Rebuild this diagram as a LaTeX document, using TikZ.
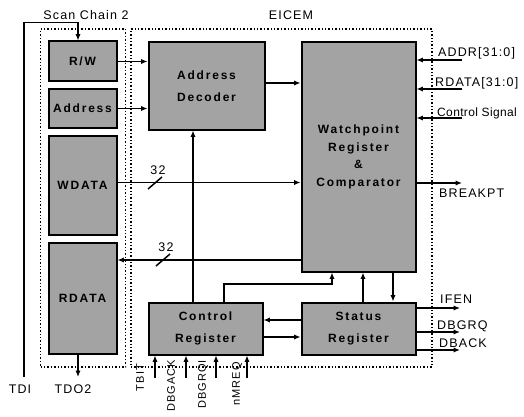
\documentclass[tikz,border=0pt]{standalone}
\usepackage{fontspec}
\setmainfont{Liberation Sans}
\newfontfamily\lblfont[LetterSpace=9]{Liberation Sans}
\newfontfamily\boxfont[LetterSpace=15]{Liberation Sans Bold}
\usetikzlibrary{positioning,arrows.meta}

\begin{document}
\begin{tikzpicture}[x=1pt,y=-1pt,
  blk/.style={draw,line width=2pt,fill=black!36,align=center,inner sep=0pt,
    font=\boxfont\fontsize{12}{17.5}\selectfont},
  grp/.style={draw,dotted,line width=1.4pt,inner sep=0pt},
  lbl/.style={inner sep=0pt,font=\lblfont\fontsize{12.5}{14}\selectfont},
  pin/.style={inner sep=0pt,font=\lblfont\fontsize{11}{13}\selectfont},
  wire/.style={line width=1.5pt},
  arr/.style={-{Latex[length=2.2mm,width=1.8mm]},line width=1.5pt}]
  \useasboundingbox (0,0) rectangle (524,417);
  % dotted blocks
  \node[grp,minimum width=85pt,minimum height=338pt] (chain) at (83,198) {};
  \node[grp,minimum width=301pt,minimum height=338pt] (eicem) at (281.5,198) {};
  \node[lbl] (chainlbl) at (86,15) {Scan Chain 2};
  \node[lbl] (eicemlbl) at (291,15) {EICEM};
  % scan chain registers
  \node[blk,minimum width=68pt,minimum height=40pt] (rw) at (82.5,61.5) {R/W};
  \node[blk,minimum width=68pt,minimum height=38pt] (addr) at (82.5,108.5) {Address};
  \node[blk,minimum width=68pt,minimum height=99pt] (wdata) at (82.5,185.5) {WDATA};
  \node[blk,minimum width=68pt,minimum height=111pt] (rdata) at (82.5,298) {RDATA};
  % EICEM blocks
  \node[blk,minimum width=116pt,minimum height=87pt] (dec) at (206.5,86) {Address\\[5pt]Decoder};
  \node[blk,minimum width=114pt,minimum height=229pt] (wpt) at (358.5,157)
    {Watchpoint\\Register\\\&\\Comparator};
  \node[blk,minimum width=114pt,minimum height=52pt] (ctrl) at (205.5,328.5) {Control\\[5pt]Register};
  \node[blk,minimum width=114pt,minimum height=52pt] (stat) at (358.5,328.5) {Status\\[5pt]Register};

  % TDI / TDO2
  \coordinate (tdi) at (24,377);
  \coordinate (tdo) at (78,377);
  \node[lbl] (tdilbl) at (20,389) {TDI};
  \node[lbl] (tdolbl) at (73,389) {TDO2};
  \draw[arr] (tdi) |- ([xshift=-4.5pt,yshift=18pt]rw.north) -- ([xshift=-4.5pt]rw.north);
  \draw[arr] (tdo |- rdata.south) -- (tdo);

  \draw[arr] (rw.east) -- (rw.east -| dec.west);
  \draw[arr] (addr.east) -- (addr.east -| dec.west);
  \draw[arr] ([yshift=3pt]dec.east) -- ([yshift=3pt]dec.east -| wpt.west);

  % inputs of the comparator
  \coordinate (addrin) at (462,60);
  \coordinate (rdin) at (462,89);
  \coordinate (ctlin) at (462,118);
  \node[lbl,anchor=west] (addrlbl) at (438,53) {ADDR[31:0]};
  \node[lbl,anchor=west] (rdlbl) at (435,83) {RDATA[31:0]};
  \node[lbl,anchor=west,font=\lblfont\fontsize{12}{14}\selectfont\addfontfeature{LetterSpace=3}]
    (ctllbl) at (437,113) {Control Signal};
  \draw[arr] (addrin) -- (addrin -| wpt.east);
  \draw[arr] (rdin) -- (rdin -| wpt.east);
  \draw[arr] (ctlin) -- (ctlin -| wpt.east);

  \coordinate (bkpt) at (462,183);
  \node[lbl,anchor=west] (bkptlbl) at (439,193) {BREAKPT};
  \draw[arr] (bkpt -| wpt.east) -- (bkpt);

  % 32-bit buses
  \draw[arr] ([yshift=3pt]wdata.east) -- ([yshift=3pt]wdata.east -| wpt.west);
  \draw[wire] (155,183) +(-7,6) -- +(7,-6);
  \node[lbl] (wbus) at (158,170) {32};
  \coordinate (rbus) at (0,260);
  \draw[arr] (rbus -| wpt.west) -- (rbus -| rdata.east);
  \draw[wire] (163,260) +(-7,6) -- +(7,-6);
  \node[lbl] (rbuslbl) at (166,247) {32};

  % control / status links
  \coordinate (cup) at (193,0);
  \draw[arr] (cup |- ctrl.north) -- (cup |- dec.south);
  \coordinate (cbend) at (224,284);
  \coordinate (wtap) at (332,284);
  \draw[arr] (cbend |- ctrl.north) -- (cbend) -- (wtap) -- (wtap |- wpt.south);
  \coordinate (stup) at (363,0);
  \coordinate (stdn) at (393,0);
  \draw[arr] (stup |- stat.north) -- (stup |- wpt.south);
  \draw[arr] (stdn |- wpt.south) -- (stdn |- stat.north);
  \coordinate (sc) at (0,320);
  \coordinate (cs) at (0,337);
  \draw[arr] (sc -| stat.west) -- (sc -| ctrl.east);
  \draw[arr] (cs -| ctrl.east) -- (cs -| stat.west);

  % status outputs
  \coordinate (ifen) at (460,308);
  \coordinate (dbgrq) at (460,332);
  \coordinate (dback) at (460,350);
  \node[lbl,anchor=west] (ifenlbl) at (440,299) {IFEN};
  \node[lbl,anchor=west] (dbgrqlbl) at (437,326) {DBGRQ};
  \node[lbl,anchor=west] (dbacklbl) at (439,343) {DBACK};
  \draw[arr] (ifen -| stat.east) -- (ifen);
  \draw[arr] (dbgrq -| stat.east) -- (dbgrq);
  \draw[arr] (dback -| stat.east) -- (dback);

  % control register inputs
  \foreach \x/\lx/\ty/\t in {155/140/364/TBIT,186/171/360/DBGACK,216/203/360/DBGRQI,247/237/362/nMREQ}{
    \coordinate (in\t) at (\x,378);
    \draw[arr] (in\t) -- (in\t |- ctrl.south);
    \node[pin,rotate=90,anchor=east] (lbl\t) at (\lx,\ty) {\t};
  }
\end{tikzpicture}
\end{document}
